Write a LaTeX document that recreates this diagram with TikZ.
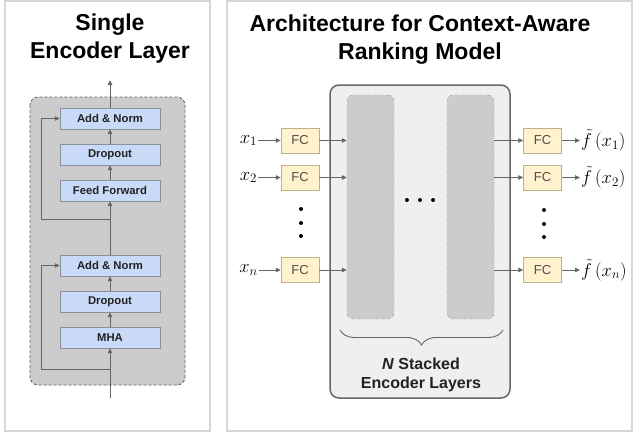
\RequirePackage{fix-cm}
\documentclass[tikz,border=0pt]{standalone}
\usepackage{fontspec}
\setmainfont{Liberation Sans}
\usetikzlibrary{arrows.meta,decorations.pathreplacing}
\definecolor{linegray}{HTML}{666666}
\definecolor{panelgray}{HTML}{D6D6D6}
\definecolor{layergray}{HTML}{CCCCCC}
\definecolor{stackgray}{HTML}{EFEFEF}
\definecolor{dashgray}{HTML}{999999}
\definecolor{blockblue}{HTML}{C9DAF8}
\definecolor{blockborder}{HTML}{8A8F99}
\definecolor{fcyellow}{HTML}{FFF2CC}
\definecolor{fcborder}{HTML}{BDB08C}
\definecolor{textdark}{HTML}{222222}
\begin{document}
\begin{tikzpicture}[x=1pt,y=-1pt,
		arr/.style={draw=linegray, line width=1pt, -{Triangle[length=5pt,width=4.5pt]}},
		block/.style={draw=blockborder, fill=blockblue, minimum width=100pt, minimum height=21pt, inner sep=0pt, text=textdark, font=\fontsize{11.3}{13}\selectfont\bfseries},
		fcbox/.style={draw=fcborder, fill=fcyellow, minimum width=38pt, minimum height=25pt, inner sep=0pt, text=textdark!80, font=\fontsize{13}{15}\selectfont},
		layerbox/.style={draw=dashgray, dashed, fill=layergray, rounded corners=6pt, minimum width=47pt, minimum height=224pt},
		title/.style={align=center, text=black, font=\fontsize{23}{28.5}\selectfont\bfseries},
		mathlbl/.style={inner sep=1pt, font=\fontsize{18.5}{21}\selectfont},
		dot/.style={fill=black}
	]
		\useasboundingbox (0,0) rectangle (634,434);
		% panels
		\draw[panelgray, line width=1.2pt] (5,1) rectangle (210,431);
		\draw[panelgray, line width=1.2pt] (227,1) rectangle (632,431);
		\node[title] (ltitle) at (110,38.5) {Single\\Encoder Layer};
		\node[title] (rtitle) at (420,39.5) {Architecture for Context-Aware\\Ranking Model};

		% single encoder layer
		\draw[linegray, fill=layergray, dash pattern=on 3pt off 2pt, line width=0.9pt, rounded corners=8pt] (30,97) rectangle (185,385);
		\node[block] (an2) at (110,118.5) {Add \& Norm};
		\node[block] (drop2) at (110,154.5) {Dropout};
		\node[block] (ff) at (110,190.5) {Feed Forward};
		\node[block] (an1) at (110,265.5) {Add \& Norm};
		\node[block] (drop1) at (110,301.5) {Dropout};
		\node[block] (mha) at (110,337.5) {MHA};
		\coordinate (in) at (110,398);
		\coordinate (out) at (110,80);
		\coordinate (r1) at (110,369);
		\coordinate (r2) at (110,219);
		\draw[arr] (in) -- (mha);
		\draw[arr] (mha) -- (drop1);
		\draw[arr] (drop1) -- (an1);
		\draw[arr] (an1) -- (ff);
		\draw[arr] (ff) -- (drop2);
		\draw[arr] (drop2) -- (an2);
		\draw[arr] (an2) -- (out);
		\draw[arr] (r1) -| ([xshift=-18pt]an1.west) -- (an1.west);
		\draw[arr] (r2) -| ([xshift=-18pt]an2.west) -- (an2.west);

		% stacked encoders
		\draw[linegray, fill=stackgray, line width=1.5pt, rounded corners=9pt] (330,85) rectangle (510,398);
		\node[layerbox] (enc1) at (370.5,207) {};
		\node[layerbox] (encn) at (470.5,207) {};
		\foreach \dx in {407,420,433}
			\fill[dot] (\dx,200) circle[radius=2];
		\draw[linegray, line width=0.9pt, decorate, decoration={brace, amplitude=15pt, mirror}] (340,330) -- (503,330);
		\node[align=center, text=textdark, font=\fontsize{16}{19}\selectfont\bfseries] (stacklbl) at (421,374.5) {\textit{N} Stacked\\Encoder Layers};

		% inputs and outputs
		\foreach \i/\y/\s in {1/140.5/1, 2/177.5/2, 3/270/n} {
			\node[mathlbl] (x\i) at (248.5,\y) {$x_{\s}$};
			\node[fcbox] (fcin\i) at (300,\y) {FC};
			\node[fcbox] (fcout\i) at (542.5,\y) {FC};
			\node[mathlbl, anchor=west] (y\i) at (580,\y) {$\tilde{f}\left(x_{\s}\right)$};
			\draw[arr] (x\i) -- (fcin\i);
			\draw[arr] (fcin\i) -- (enc1.west |- fcin\i);
			\draw[arr] (encn.east |- fcout\i) -- (fcout\i);
			\draw[arr] (fcout\i) -- (y\i);
		}
		\foreach \dy in {209,223,236} {
			\fill[dot] (301,\dy) circle[radius=2];
			\fill[dot] (544,\dy+1) circle[radius=2];
		}
\end{tikzpicture}
\end{document}
